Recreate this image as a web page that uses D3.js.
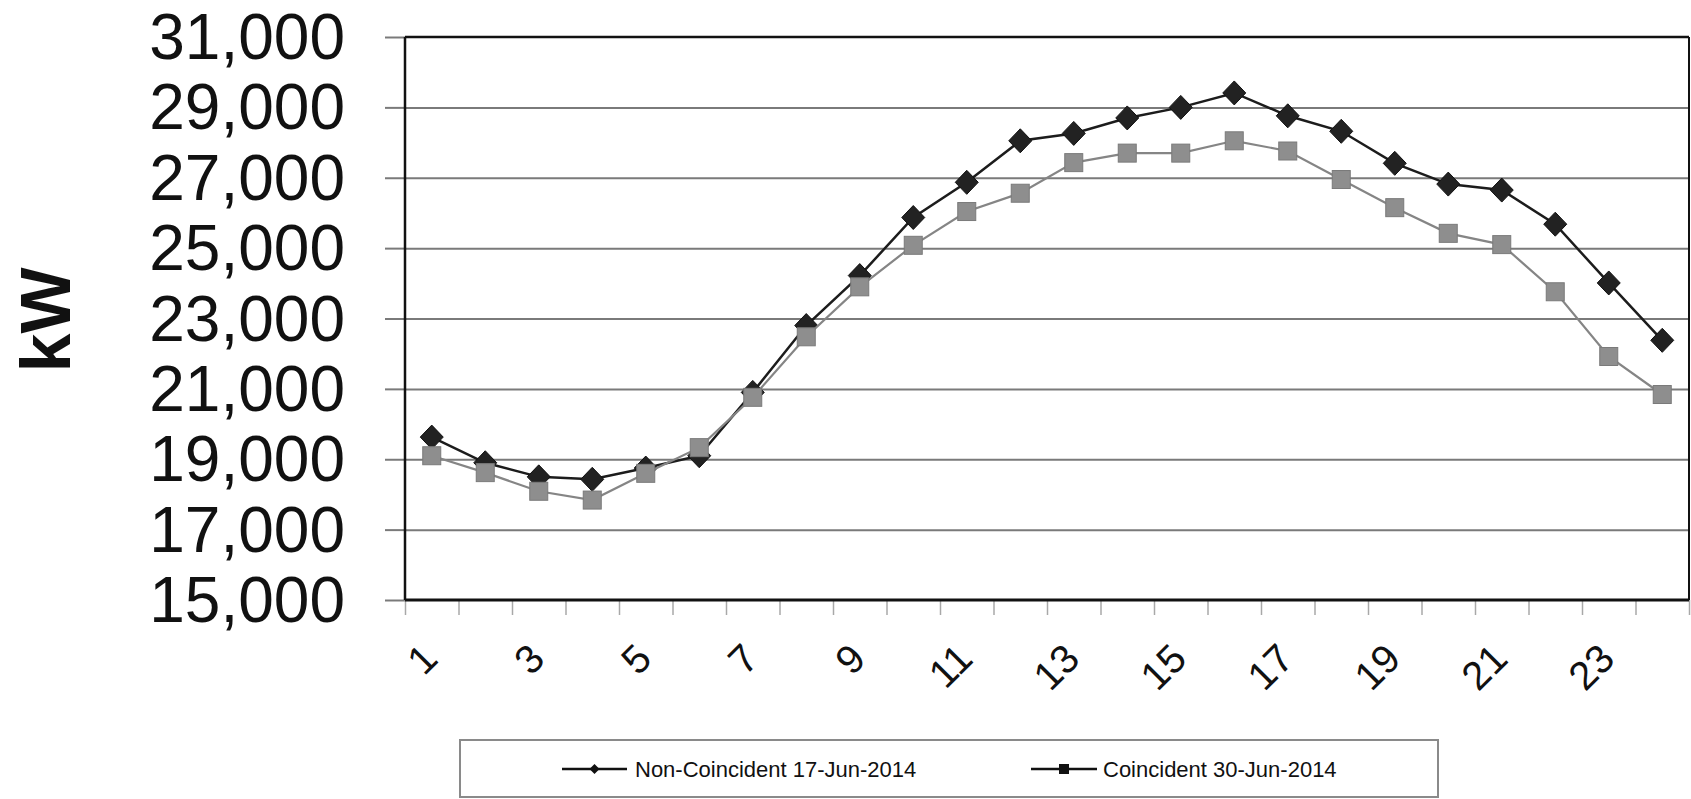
<!DOCTYPE html>
<html><head><meta charset="utf-8">
<script src="https://cdn.jsdelivr.net/npm/d3@7"></script>
<style>
body{margin:0;background:#fff}
svg{display:block}
text{font-family:"Liberation Sans",Arial,Helvetica,sans-serif;fill:#111}
</style>
</head><body>
<svg id="chart" width="1691" height="799"></svg>
<script>
// ---- data ----
const hours = d3.range(1, 25);
const nonCoincident = [19630,18900,18500,18430,18750,19100,20900,22800,24220,25870,26870,28050,28260,28700,29000,29410,28760,28320,27410,26820,26650,25680,24010,22380];
const coincident   = [19100,18620,18090,17840,18600,19330,20760,22480,23900,25080,26040,26560,27430,27700,27700,28050,27760,26950,26150,25420,25100,23760,21920,20840];
const yTicks = d3.range(15000, 31001, 2000);
const xLabels = hours.filter(h => h % 2 === 1);
const seriesNames = ["Non-Coincident 17-Jun-2014", "Coincident 30-Jun-2014"];
const yTitle = "kW";

// ---- layout ----
const svg = d3.select("#chart");
const L = 405, R = 1689, T = 37, B = 600;

const x = d3.scaleBand().domain(hours).range([L, R]).paddingInner(0).paddingOuter(0);
const xEdge = d3.scaleLinear().domain([0, 24]).range([L, R]);
const y = d3.scaleLinear().domain([15000, 31000]).range([B, T]);
const cx = h => x(h) + x.bandwidth() / 2;

// y ticks (outside)
const yAxis = d3.axisLeft(y).tickValues(yTicks).tickSize(20).tickFormat("");
const gy = svg.append("g").attr("transform", `translate(${L},0)`).call(yAxis);
gy.select(".domain").remove();
gy.selectAll(".tick line").attr("stroke", "#7a7a7a").attr("stroke-width", 2);

// gridlines
const grid = d3.axisLeft(y).tickValues(yTicks.slice(1, -1)).tickSize(-(R - L)).tickFormat("");
const gg = svg.append("g").attr("transform", `translate(${L},0)`).call(grid);
gg.select(".domain").remove();
gg.selectAll(".tick line").attr("stroke", "#7a7a7a").attr("stroke-width", 2);

// y labels
svg.append("g").selectAll("text").data(yTicks).join("text")
  .attr("x", 345).attr("y", d => y(d))
  .attr("text-anchor", "end").attr("dominant-baseline", "central")
  .style("font-size", "64px")
  .text(d => d3.format(",")(d));

// x tick marks at category boundaries
const xAxis = d3.axisBottom(xEdge).tickValues(d3.range(0, 25)).tickSize(15).tickFormat("");
const gx = svg.append("g").attr("transform", `translate(0,${B})`).call(xAxis);
gx.select(".domain").remove();
gx.selectAll(".tick line").attr("stroke", "#a8a8a8").attr("stroke-width", 1.5);

// x labels (rotated)
svg.append("g").selectAll("text").data(xLabels).join("text")
  .attr("transform", d => `translate(${cx(d) + 8},${B + 61}) rotate(-45)`)
  .attr("text-anchor", "end")
  .style("font-size", "40px")
  .text(d => d);

// plot frame
svg.append("line").attr("x1", L).attr("x2", R).attr("y1", T).attr("y2", T).attr("stroke", "#111").attr("stroke-width", 2.5);
svg.append("line").attr("x1", R).attr("x2", R).attr("y1", T).attr("y2", B).attr("stroke", "#111").attr("stroke-width", 2);
svg.append("line").attr("x1", L).attr("x2", L).attr("y1", T).attr("y2", B).attr("stroke", "#111").attr("stroke-width", 2.5);
svg.append("line").attr("x1", L).attr("x2", R).attr("y1", B).attr("y2", B).attr("stroke", "#111").attr("stroke-width", 3);

// y title
svg.append("text")
  .attr("transform", `translate(70,320) rotate(-90)`)
  .attr("text-anchor", "middle")
  .style("font-size", "70px").style("font-weight", "bold")
  .text(yTitle);

// series
const line = d3.line().x((d, i) => cx(hours[i])).y(d => y(d));

// series 1 (non-coincident)
svg.append("path").datum(nonCoincident).attr("d", line)
  .attr("fill", "none").attr("stroke", "#1c1c1c").attr("stroke-width", 2.5);
svg.append("g").selectAll("path").data(nonCoincident).join("path")
  .attr("transform", (d, i) => `translate(${cx(hours[i])},${y(d)})`)
  .attr("d", "M0,-12L11.5,0L0,12L-11.5,0Z")
  .attr("fill", "#222").attr("stroke", "#111").attr("stroke-width", 1);

// series 2 (coincident)
svg.append("path").datum(coincident).attr("d", line)
  .attr("fill", "none").attr("stroke", "#858585").attr("stroke-width", 2.2);
svg.append("g").selectAll("rect").data(coincident).join("rect")
  .attr("x", (d, i) => cx(hours[i]) - 9).attr("y", d => y(d) - 9)
  .attr("width", 18).attr("height", 18)
  .attr("fill", "#8e8e8e").attr("stroke", "#7a7a7a").attr("stroke-width", 1);

// legend
const lg = svg.append("g");
lg.append("rect").attr("x", 460).attr("y", 740).attr("width", 978).attr("height", 57)
  .attr("fill", "#fff").attr("stroke", "#8a8a8a").attr("stroke-width", 2);
const ly = 769;
const legendItems = [
  {name: seriesNames[0], x1: 562, x2: 627, tx: 635, shape: "diamond"},
  {name: seriesNames[1], x1: 1031, x2: 1097, tx: 1103, shape: "square"}
];
legendItems.forEach(it => {
  lg.append("line").attr("x1", it.x1).attr("x2", it.x2).attr("y1", ly).attr("y2", ly)
    .attr("stroke", "#111").attr("stroke-width", 2.5);
  const mx = (it.x1 + it.x2) / 2;
  if (it.shape === "diamond") {
    lg.append("path").attr("transform", `translate(${mx},${ly})`).attr("d", "M0,-5L5,0L0,5L-5,0Z").attr("fill", "#111");
  } else {
    lg.append("rect").attr("x", mx - 5).attr("y", ly - 5).attr("width", 10).attr("height", 10).attr("fill", "#111");
  }
  lg.append("text").attr("x", it.tx).attr("y", ly).attr("dominant-baseline", "central")
    .style("font-size", "22px").text(it.name);
});
</script>
</body></html>
